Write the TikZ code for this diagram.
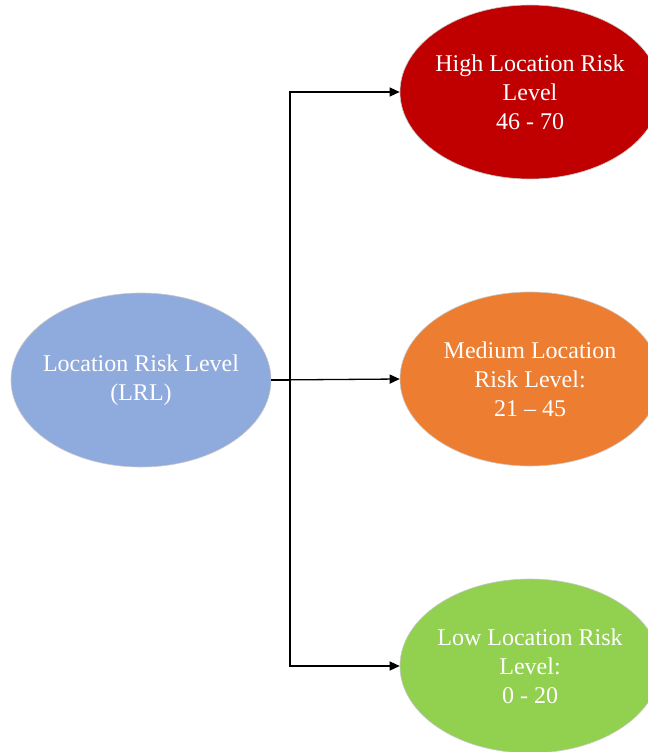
\documentclass[tikz,border=0pt]{standalone}
\usepackage{fontspec}
\setmainfont{Liberation Serif}
\usetikzlibrary{shapes.geometric,arrows.meta}
\definecolor{lrlblue}{HTML}{8FAADC}
\definecolor{highred}{HTML}{C00000}
\definecolor{medorange}{HTML}{ED7D31}
\definecolor{lowgreen}{HTML}{92D050}
\definecolor{rimgray}{HTML}{C8C8C8}
\tikzset{
  riskell/.style={ellipse, draw=rimgray, line width=0.6bp, minimum width=260bp, minimum height=174bp,
    inner xsep=-60bp, inner ysep=-25bp, text=white, align=center,
    font=\fontsize{24bp}{29bp}\selectfont},
  conn/.style={line width=1.3bp, black},
  arr/.style={conn, -{Triangle[length=10bp,width=9bp]}}
}
\begin{document}
\begin{tikzpicture}[x=1bp,y=-1bp]
\useasboundingbox (0,0) rectangle (648,752);
\begin{scope}
\clip (0,0) rectangle (648,752);
\node[riskell, fill=lrlblue] (lrl) at (141,380) {Location Risk Level\\(LRL)};
\node[riskell, fill=highred] (high) at (530,92) {High Location Risk\\Level\\46 - 70};
\node[riskell, fill=medorange] (med) at (530,379) {Medium Location\\Risk Level:\\21 – 45};
\node[riskell, fill=lowgreen] (low) at (530,666) {Low Location Risk\\Level:\\0 - 20};
\end{scope}
\coordinate (br) at (290,380);
\draw[conn] (lrl.east) -- (br);
\draw[arr] (br) |- (high.west);
\draw[arr] (br) |- (low.west);
\draw[arr] (lrl.east) -- (med.west);
\end{tikzpicture}
\end{document}
